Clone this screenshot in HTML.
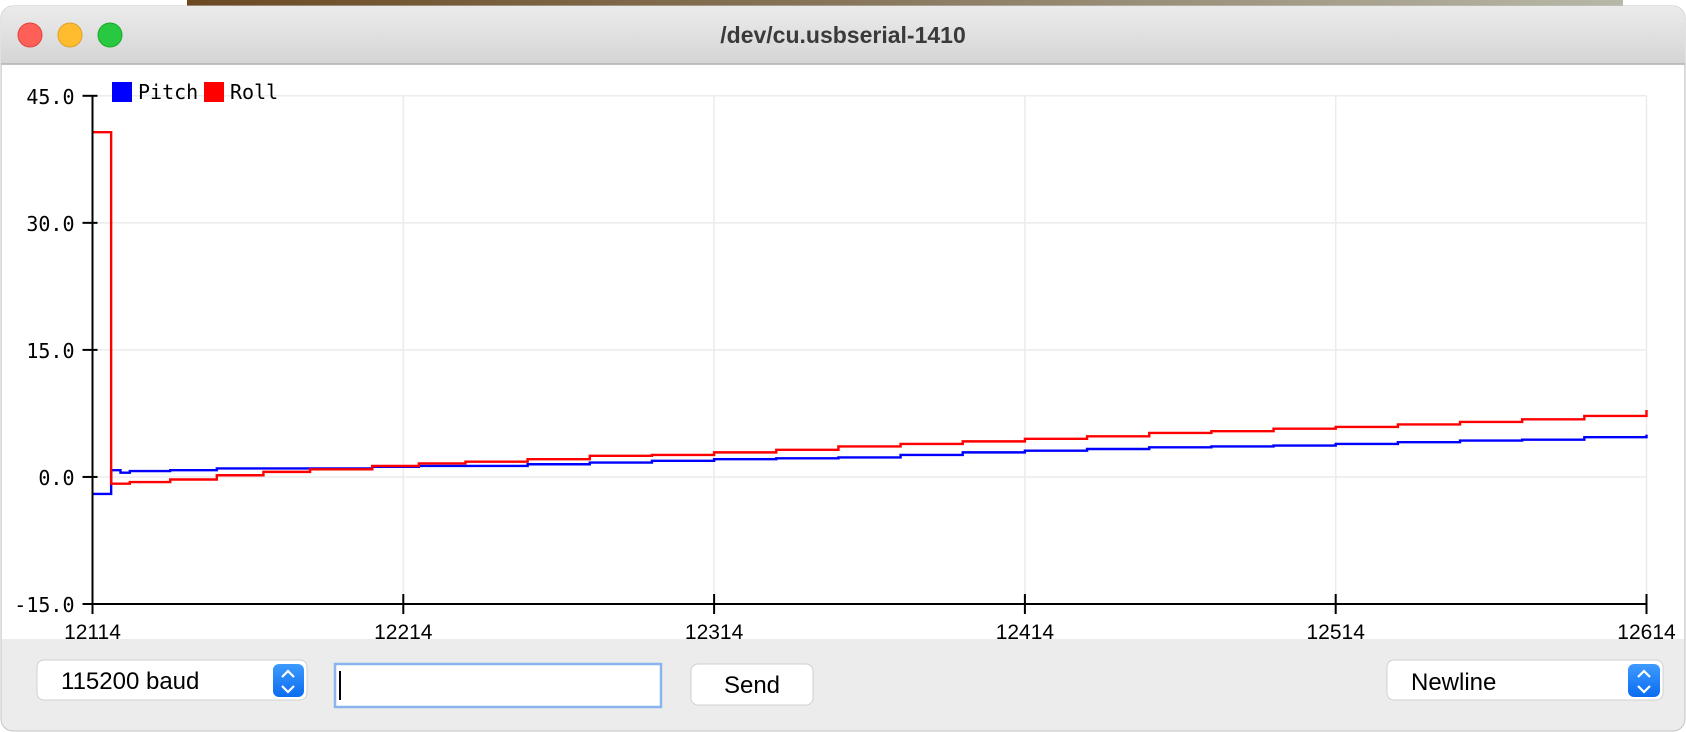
<!DOCTYPE html>
<html><head><meta charset="utf-8">
<style>
html,body{margin:0;padding:0;background:#fff;width:1686px;height:732px;overflow:hidden;}
svg{display:block;}
.mono{font-family:"DejaVu Sans Mono","Liberation Mono",monospace;}
.sans{font-family:"Liberation Sans","DejaVu Sans",sans-serif;}
</style></head>
<body>
<svg id="root" width="1686" height="732" viewBox="0 0 1686 732" xmlns="http://www.w3.org/2000/svg">
  <defs>
    <linearGradient id="tb" x1="0" y1="0" x2="0" y2="1"><stop offset="0" stop-color="#ebebeb"/><stop offset="1" stop-color="#d5d5d5"/></linearGradient>
    <linearGradient id="photo" x1="0" y1="0" x2="1" y2="0"><stop offset="0" stop-color="#6b4a22"/><stop offset="0.5" stop-color="#8a7a60"/><stop offset="1" stop-color="#b8b8a8"/></linearGradient>
    <linearGradient id="step" x1="0" y1="0" x2="0" y2="1"><stop offset="0" stop-color="#3f9bff"/><stop offset="1" stop-color="#0a6cf0"/></linearGradient>
  </defs>
  <rect x="187" y="0" width="1436" height="8" fill="url(#photo)"/>
  <rect x="1" y="6" width="1684" height="725" rx="12" fill="#ececec" stroke="#c4c4c4"/>
  <path d="M1,64 V18 A12,12 0 0 1 13,6 H1673 A12,12 0 0 1 1685,18 V64 Z" fill="url(#tb)"/>
  <line x1="1" y1="64" x2="1685" y2="64" stroke="#b3b3b3" stroke-width="1.5"/>
  <circle cx="30" cy="35" r="12" fill="#fe5f57" stroke="#e0443e"/>
  <circle cx="70" cy="35" r="12" fill="#febc2e" stroke="#dea123"/>
  <circle cx="110" cy="35" r="12" fill="#28c840" stroke="#1aab29"/>
  <text x="843" y="43" text-anchor="middle" class="sans" font-size="23" font-weight="bold" fill="#3a3a3a">/dev/cu.usbserial-1410</text>
  <rect x="2" y="65" width="1682" height="574" fill="#fff"/>

  <g id="chart"></g>

  <rect x="112" y="82" width="20" height="20" fill="#0000ff"/>
  <text x="138" y="99" class="mono" font-size="20" fill="#000">Pitch</text>
  <rect x="204" y="82" width="20" height="20" fill="#ff0000"/>
  <text x="230" y="99" class="mono" font-size="20" fill="#000">Roll</text>

  <g>
    <rect x="37" y="660" width="270" height="40" rx="7" fill="#fff" stroke="#d0d0d0"/>
    <text x="61" y="689" class="sans" font-size="24" fill="#000">115200 baud</text>
    <rect x="273" y="664" width="31" height="33" rx="6" fill="url(#step)"/>
    <path d="M282,677 l6,-6 l6,6 M282,686 l6,6 l6,-6" stroke="#fff" stroke-width="2.2" fill="none"/>
  </g>
  <g>
    <rect x="335" y="664" width="326" height="43" fill="#fff" stroke="#8ab4ee" stroke-width="2.5"/>
    <line x1="340" y1="671" x2="340" y2="700" stroke="#000" stroke-width="2"/>
  </g>
  <g>
    <rect x="691" y="664" width="122" height="41" rx="7" fill="#fff" stroke="#d0d0d0"/>
    <text x="752" y="693" text-anchor="middle" class="sans" font-size="24" fill="#000">Send</text>
  </g>
  <g>
    <rect x="1387" y="660" width="276" height="40" rx="7" fill="#fff" stroke="#d0d0d0"/>
    <text x="1411" y="690" class="sans" font-size="24" fill="#000">Newline</text>
    <rect x="1628" y="664" width="32" height="33" rx="6" fill="url(#step)"/>
    <path d="M1638,677 l6,-6 l6,6 M1638,686 l6,6 l6,-6" stroke="#fff" stroke-width="2.2" fill="none"/>
  </g>
</svg>
<script>
const xTicks = [12114, 12214, 12314, 12414, 12514, 12614];
const yTicks = [-15.0, 0.0, 15.0, 30.0, 45.0];
const sampleTimes = [12114,12120,12123,12126,12139,12154,12169,12184,12204,12219,12234,12254,12274,12294,12314,12334,12354,12374,12394,12414,12434,12454,12474,12494,12514,12534,12554,12574,12594,12614];
const rollValues  = [40.7,-0.8,-0.8,-0.6,-0.3,0.2,0.6,0.9,1.3,1.6,1.8,2.1,2.5,2.6,2.9,3.2,3.6,3.9,4.2,4.5,4.8,5.2,5.4,5.7,5.9,6.2,6.5,6.8,7.2,7.9];
const pitchValues = [-2.0,0.8,0.5,0.7,0.8,1.0,1.0,1.0,1.2,1.3,1.3,1.5,1.7,1.9,2.1,2.2,2.3,2.6,2.9,3.1,3.3,3.5,3.6,3.7,3.9,4.1,4.3,4.4,4.7,5.0];

const X0=92.5, X1=1646.5, Y0=604, Y1=95.8;
const xMin=12114, xMax=12614, yMin=-15, yMax=45;
function sx(v){return X0+(v-xMin)/(xMax-xMin)*(X1-X0);}
function sy(v){return Y0-(v-yMin)/(yMax-yMin)*(Y0-Y1);}
const NS='http://www.w3.org/2000/svg';
const g=document.getElementById('chart');
function mk(tag,attrs){const e=document.createElementNS(NS,tag);for(const k in attrs)e.setAttribute(k,attrs[k]);g.appendChild(e);return e;}

xTicks.forEach(t=>{
  if(t!==xMin){const l=mk('line',{x1:sx(t),x2:sx(t),y1:Y1,y2:Y0,stroke:'#ececec','stroke-width':1.5});
  
  }
});
yTicks.forEach(t=>{
  if(t!==yMin){const l=mk('line',{x1:X0,x2:X1,y1:sy(t),y2:sy(t),stroke:'#ececec','stroke-width':1.5});
  
  }
});
function series(vals,color,name){
  let d='M'+sx(sampleTimes[0])+','+sy(vals[0]);
  for(let i=1;i<vals.length;i++){d+=' H'+sx(sampleTimes[i])+' V'+sy(vals[i]);}
  const p=mk('path',{d:d,fill:'none',stroke:color,'stroke-width':2.4});
  
  
}
series(pitchValues,'#0000ff','pitch-line');
series(rollValues,'#ff0000','roll-line');

const ya=mk('line',{x1:X0,x2:X0,y1:Y1,y2:Y0,stroke:'#000','stroke-width':2});


const xa=mk('line',{x1:X0,x2:X1,y1:Y0,y2:Y0,stroke:'#000','stroke-width':2});


yTicks.forEach(t=>{
  const tk=mk('line',{x1:X0-10,x2:X0+5,y1:sy(t),y2:sy(t),stroke:'#000','stroke-width':2});
  
  
  const tx=mk('text',{x:X0-18,y:sy(t)+8,'text-anchor':'end','font-size':20,'class':'mono',fill:'#000'});
  tx.textContent=t.toFixed(1);
  
  
});
xTicks.forEach(t=>{
  const tk=mk('line',{x1:sx(t),x2:sx(t),y1:Y0-10,y2:Y0+10,stroke:'#000','stroke-width':2});
  
  
  const tx=mk('text',{x:sx(t),y:Y0+35,'text-anchor':'middle','font-size':21,'class':'sans',fill:'#000'});
  tx.textContent=String(t);
  
  
});
</script>
</body></html>
